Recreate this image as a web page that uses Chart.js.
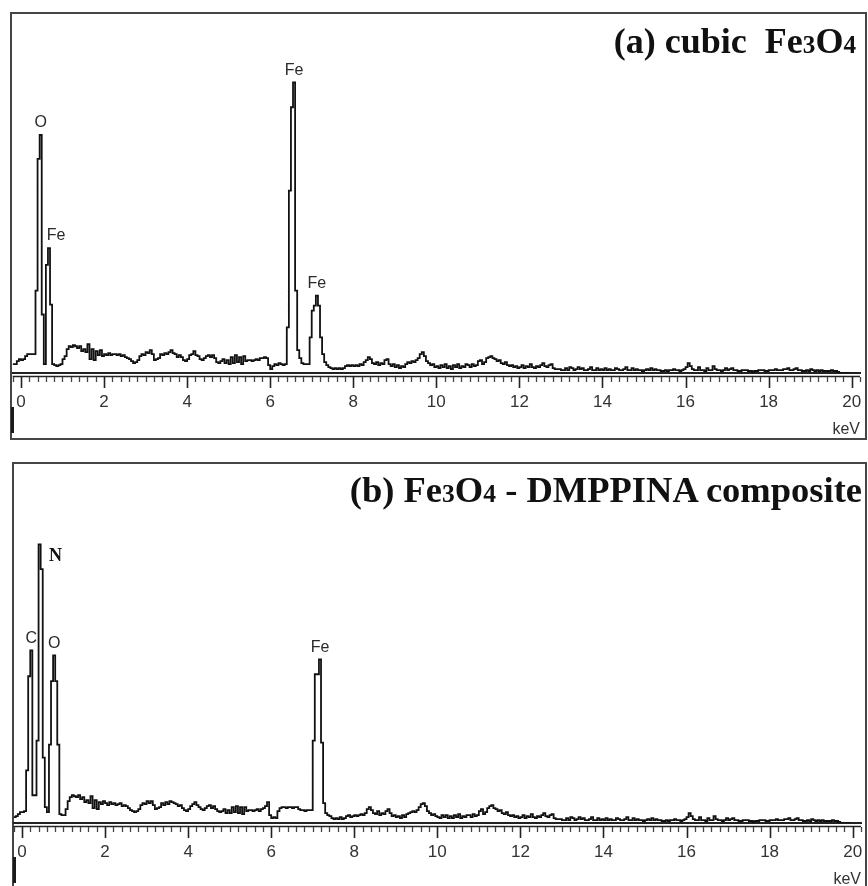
<!DOCTYPE html>
<html>
<head>
<meta charset="utf-8">
<script src="https://cdn.jsdelivr.net/npm/chart.js@4.4.1/dist/chart.umd.min.js"></script>
<style>
  html, body { margin: 0; padding: 0; background: #fff; overflow: hidden; }
  body { width: 868px; height: 886px; position: relative; }
  .panel { position: absolute; width: 868px; height: 443px; }
  .frame { position: absolute; border: 2px solid #454545; }
  .stub { position: absolute; width: 3px; background: #1a1a1a; }
  .title {
    position: absolute; white-space: nowrap; color: #111;
    font: bold 36px "Liberation Serif", "Times New Roman", serif; line-height: 36px;
  }
  .title .s { font-size: 0.7em; }
</style>
</head>
<body>
<div class="frame" style="left:10px; top:12px; width:853px; height:424px;"></div>
<div class="frame" style="left:12px; top:462px; width:851px; height:500px;"></div>
<div class="stub" style="left:11px; top:407px; height:26px;"></div>
<div class="stub" style="left:13px; top:857px; height:26px;"></div>

<div class="panel" style="left:0; top:0;"><canvas id="specA" width="868" height="443"></canvas></div>
<div class="panel" style="left:1px; top:450px;"><canvas id="specB" width="868" height="443"></canvas></div>

<div class="title" style="right:12px; top:23px;">(a) cubic&nbsp; Fe<span class="s">3</span>O<span class="s">4</span></div>
<div class="title" style="right:6px; top:472px; font-size:36.5px;">(b) Fe<span class="s">3</span>O<span class="s">4</span> - DMPPINA composite</div>

<script>
// EDS spectra, 0.05 keV channels starting at -0.20 keV
const startKeV = -0.2;
const channelKeV = 0.05;
const keVTicks = [0, 2, 4, 6, 8, 10, 12, 14, 16, 18, 20];

// (a) cubic Fe3O4 -- counts per channel, one row per keV
const countsA = [
  9, 9, 12, 14,
  13, 14, 17, 19, 19, 19, 19, 83, 216, 240, 59, 9, 109, 126, 69, 9, 8, 7, 8, 9,
  14, 17, 24, 27, 26, 28, 27, 25, 27, 22, 24, 21, 29, 14, 24, 13, 22, 18, 23, 17,
  19, 18, 20, 18, 19, 19, 18, 19, 17, 18, 16, 15, 14, 12, 10, 11, 13, 17, 19, 18,
  21, 20, 23, 19, 13, 14, 15, 19, 18, 20, 19, 21, 23, 20, 19, 16, 18, 16, 13, 12,
  14, 18, 19, 22, 18, 17, 14, 13, 15, 17, 18, 16, 18, 15, 11, 10, 12, 14, 10, 13,
  9, 16, 10, 18, 11, 16, 9, 17, 12, 13, 13, 12, 13, 14, 13, 15, 15, 16, 15, 8,
  4, 7, 9, 8, 10, 9, 8, 9, 46, 184, 268, 293, 83, 23, 15, 10, 9, 9, 9, 36,
  63, 68, 78, 68, 36, 19, 11, 8, 6, 5, 4, 5, 4, 5, 4, 5, 7, 8, 7, 8,
  7, 8, 7, 9, 8, 11, 13, 16, 14, 10, 9, 11, 8, 10, 9, 13, 14, 9, 7, 9,
  6, 8, 5, 7, 6, 9, 11, 10, 12, 11, 13, 15, 19, 21, 17, 12, 10, 8, 9, 6,
  7, 5, 8, 6, 9, 5, 7, 4, 8, 6, 9, 5, 7, 6, 9, 8, 6, 9, 7, 8,
  12, 13, 9, 11, 15, 16, 17, 15, 14, 12, 13, 10, 9, 11, 8, 7, 8, 6, 7, 5,
  6, 8, 5, 7, 6, 9, 6, 5, 7, 6, 8, 10, 7, 6, 8, 9, 5, 4, 4, 4,
  3, 3, 5, 3, 6, 5, 3, 4, 6, 4, 5, 3, 3, 4, 6, 3, 3, 5, 3, 4,
  3, 5, 3, 4, 3, 3, 5, 4, 3, 3, 4, 6, 3, 3, 5, 3, 4, 3, 3, 2,
  3, 4, 3, 5, 3, 4, 3, 3, 2, 2, 3, 2, 3, 3, 4, 3, 3, 2, 3, 4,
  6, 10, 7, 4, 3, 3, 6, 3, 3, 2, 5, 3, 3, 7, 4, 3, 3, 2, 3, 5,
  3, 4, 5, 3, 3, 2, 2, 3, 3, 3, 2, 2, 1, 2, 2, 3, 3, 3, 2, 2,
  3, 3, 3, 4, 3, 3, 3, 4, 4, 5, 3, 3, 4, 5, 3, 3, 2, 2, 3, 2,
  4, 3, 2, 3, 2, 3, 2, 2, 2, 2, 3, 2, 2, 1, 0, 0, 0, 0, 0, 0
];
const peakNamesA = ['O', 'Fe', 'Fe', 'Fe'];
const peakKeVA = [0.45, 0.65, 6.55, 7.10];

// (b) Fe3O4 - DMPPINA composite
const countsB = [
  6, 7, 9, 11,
  11, 12, 53, 148, 174, 28, 28, 83, 281, 256, 66, 16, 11, 79, 143, 169, 143, 79, 9, 8,
  8, 14, 22, 26, 28, 27, 26, 28, 24, 26, 21, 23, 20, 27, 15, 23, 14, 21, 19, 22,
  20, 18, 21, 19, 20, 18, 19, 20, 17, 18, 17, 15, 13, 12, 11, 12, 14, 18, 20, 19,
  22, 20, 22, 18, 14, 15, 16, 20, 18, 21, 19, 22, 21, 20, 19, 17, 18, 15, 13, 12,
  14, 17, 19, 21, 18, 16, 14, 13, 15, 17, 18, 15, 17, 14, 12, 11, 12, 14, 10, 13,
  10, 16, 11, 17, 10, 16, 9, 16, 12, 13, 13, 12, 13, 14, 12, 14, 15, 17, 21, 8,
  5, 6, 5, 12, 15, 16, 16, 15, 16, 16, 15, 16, 16, 14, 13, 13, 12, 13, 13, 13,
  83, 150, 150, 165, 81, 20, 10, 8, 7, 5, 4, 5, 4, 6, 4, 5, 7, 8, 6, 7,
  8, 7, 8, 9, 8, 10, 14, 16, 13, 10, 9, 12, 8, 10, 9, 12, 14, 10, 7, 8,
  6, 7, 5, 8, 6, 9, 10, 11, 12, 11, 13, 16, 19, 20, 17, 12, 10, 8, 9, 7,
  6, 5, 8, 6, 8, 5, 7, 5, 8, 6, 9, 5, 7, 6, 8, 8, 6, 9, 7, 8,
  12, 14, 9, 11, 15, 17, 18, 15, 14, 12, 13, 10, 9, 11, 8, 7, 8, 6, 7, 5,
  6, 8, 5, 7, 6, 9, 6, 5, 7, 6, 8, 10, 7, 6, 8, 9, 5, 4, 4, 4,
  3, 3, 5, 3, 6, 5, 3, 4, 6, 4, 5, 3, 3, 4, 6, 3, 3, 5, 3, 4,
  3, 5, 3, 4, 3, 3, 5, 4, 3, 3, 4, 6, 3, 3, 5, 3, 4, 3, 3, 2,
  3, 4, 3, 5, 3, 4, 3, 3, 2, 2, 3, 2, 3, 3, 4, 3, 3, 2, 3, 4,
  6, 10, 7, 4, 3, 3, 6, 3, 3, 2, 5, 3, 3, 7, 4, 3, 3, 2, 3, 5,
  3, 4, 5, 3, 3, 2, 2, 3, 3, 3, 2, 2, 1, 2, 2, 3, 3, 3, 2, 2,
  3, 3, 3, 4, 3, 3, 3, 4, 4, 5, 3, 3, 4, 5, 3, 3, 2, 2, 3, 2,
  4, 3, 2, 3, 2, 3, 2, 2, 2, 2, 3, 2, 2, 1, 0, 0, 0, 0, 0, 0
];
const peakNamesB = ['C', 'N', 'O', 'Fe'];
const peakKeVB = [0.20, 0.40, 0.75, 7.15];

// double axis line, minor/major ticks and the element labels over the peaks
const spectrumDecor = {
  id: 'spectrumDecor',
  afterDatasetsDraw(chart, args, opts) {
    const ctx = chart.ctx;
    const xs = chart.scales.x;
    const ys = chart.scales.y;
    const area = chart.chartArea;
    ctx.save();

    ctx.strokeStyle = '#222';
    ctx.lineWidth = 1.5;
    ctx.beginPath();
    ctx.moveTo(area.left, area.bottom + 3.5);
    ctx.lineTo(area.right, area.bottom + 3.5);
    ctx.stroke();

    xs.ticks.forEach(t => {
      const x = Math.round(xs.getPixelForValue(t.value)) + 0.5;
      const major = keVTicks.some(k => Math.abs(k - t.value) < 1e-6);
      ctx.beginPath();
      ctx.moveTo(x, area.bottom + 4);
      ctx.lineTo(x, area.bottom + (major ? 15 : 9));
      ctx.lineWidth = major ? 1.6 : 1.3;
      ctx.strokeStyle = major ? '#222' : '#444';
      ctx.stroke();
    });

    ctx.textAlign = 'center';
    ctx.textBaseline = 'middle';
    opts.names.forEach((name, i) => {
      const ch = Math.round((opts.keV[i] - startKeV) / channelKeV);
      let x = xs.getPixelForValue(startKeV + (ch + 0.5) * channelKeV);
      const top = ys.getPixelForValue(opts.counts[ch]);
      // a label squeezed against the previous peak moves to the right
      if (i > 0 && opts.keV[i] - opts.keV[i - 1] < 0.25) x += 7;
      if (name === 'N') {
        ctx.font = 'bold 18px "Liberation Serif", serif';
        ctx.fillStyle = '#111';
        ctx.fillText(name, x + 9, top + 12);
      } else {
        ctx.font = '16px "Liberation Sans", Arial, sans-serif';
        ctx.fillStyle = '#2a2a2a';
        ctx.fillText(name, x, top - 12);
      }
    });
    ctx.restore();
  }
};

function drawSpectrum(canvasId, counts, names, keV) {
  const points = counts.map((c, i) => ({ x: startKeV + i * channelKeV, y: c }));
  return new Chart(document.getElementById(canvasId), {
    type: 'line',
    data: {
      datasets: [{
        data: points,
        borderColor: '#111',
        borderWidth: 1.8,
        pointRadius: 0,
        stepped: true,
        fill: false
      }]
    },
    options: {
      responsive: false,
      animation: false,
      devicePixelRatio: 1,
      layout: { padding: { left: 12.65, right: 3.6, top: 16, bottom: 3.4 } },
      scales: {
        x: {
          type: 'linear',
          min: -0.2,
          max: 20.2,
          border: { display: true, color: '#222', width: 2 },
          grid: { drawOnChartArea: false, drawTicks: true, tickLength: 11, color: 'rgba(0,0,0,0)' },
          ticks: {
            stepSize: 0.2,
            autoSkip: false,
            maxRotation: 0,
            padding: 8,
            color: '#333',
            font: { family: '"Liberation Sans", Arial, sans-serif', size: 17 },
            callback: v => {
              const k = keVTicks.find(k => Math.abs(k - v) < 1e-6);
              return k === undefined ? '' : String(k);
            }
          },
          title: {
            display: true,
            text: 'keV',
            align: 'end',
            color: '#333',
            font: { family: '"Liberation Sans", Arial, sans-serif', size: 16 },
            padding: { top: 0, bottom: 0 }
          }
        },
        y: { display: false, min: 0, max: 360 }
      },
      plugins: {
        legend: { display: false },
        tooltip: { enabled: false },
        spectrumDecor: { names: names, keV: keV, counts: counts }
      }
    },
    plugins: [spectrumDecor]
  });
}

drawSpectrum('specA', countsA, peakNamesA, peakKeVA);
drawSpectrum('specB', countsB, peakNamesB, peakKeVB);
</script>
</body>
</html>
